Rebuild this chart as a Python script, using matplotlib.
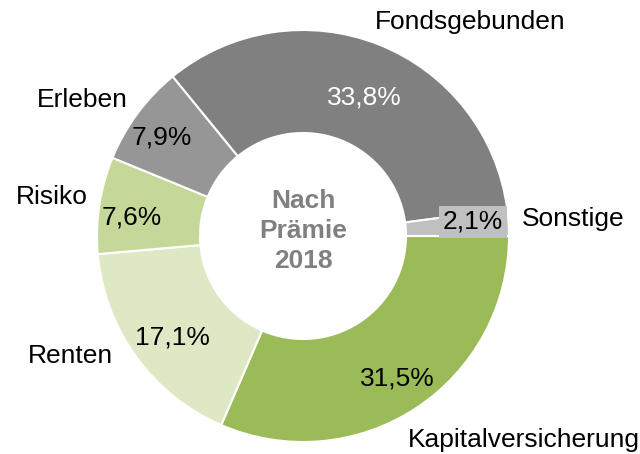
import matplotlib
matplotlib.use("Agg")
import matplotlib.pyplot as plt

# Data
categories = ["Kapitalversicherung", "Renten", "Risiko", "Erleben", "Fondsgebunden", "Sonstige"]
shares = [31.5, 17.1, 7.6, 7.9, 33.8, 2.1]
center_label = "Nach\nPrämie\n2018"

# Styles / layout
colors = ["#9bbb59", "#dfe8c5", "#c5d89a", "#969696", "#808080", "#c0c0c0"]
pct_colors = ["black", "black", "black", "black", "white", "black"]
pct_pos = [(0.46, -0.69), (-0.636, -0.495), (-0.83, 0.092), (-0.684, 0.48), (0.30, 0.67), (0.825, 0.068)]
lab_pos = [(0.51, -0.99, "left"), (-0.922, -0.583, "right"), (-1.044, 0.189, "right"),
           (-0.85, 0.66, "right"), (0.81, 1.04, "center"), (1.063, 0.083, "left")]

plt.rcParams['font.family'] = ['Liberation Sans', 'DejaVu Sans']

fig = plt.figure(figsize=(6.4, 4.54), dpi=100)
ax = fig.add_axes([97/640, 12/454, 412/640, 412/454])

wedges, texts, autotexts = ax.pie(
    shares, colors=colors, startangle=0, counterclock=False,
    radius=1.0, wedgeprops=dict(width=0.5, edgecolor="white", linewidth=1.5),
    autopct=lambda p: f"{p:.1f}%".replace(".", ","), pctdistance=0.8,
    textprops=dict(fontsize=19))

for t, c, pos in zip(autotexts, pct_colors, pct_pos):
    t.set_color(c)
    t.set_position(pos)
    t.set_ha("center")
    t.set_va("center")
autotexts[-1].set_bbox(dict(facecolor="#c0c0c0", edgecolor="none", pad=3))

for name, (x, y, ha) in zip(categories, lab_pos):
    ax.text(x, y, name, ha=ha, va="center", fontsize=19, color="black", clip_on=False)

ax.text(0, 0.024, center_label, ha="center", va="center", fontsize=19,
        fontweight="bold", color="#808080", linespacing=1.3)

ax.set_xlim(-1, 1)
ax.set_ylim(-1, 1)
ax.set_aspect("auto")
ax.axis("off")

fig.savefig("out.png", dpi=100)
